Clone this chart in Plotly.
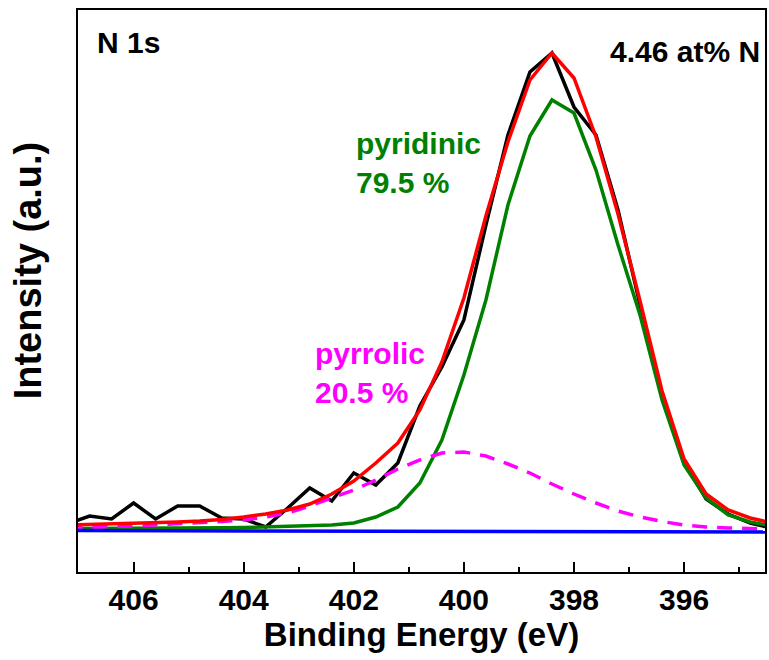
import plotly.graph_objects as go

# Binding energy (eV), 0.4 eV steps
energy = [407.2, 406.8, 406.4, 406.0, 405.6, 405.2, 404.8, 404.4, 404.0, 403.6,
          403.2, 402.8, 402.4, 402.0, 401.6, 401.2, 400.8, 400.4, 400.0, 399.6,
          399.2, 398.8, 398.4, 398.0, 397.6, 397.2, 396.8, 396.4, 396.0, 395.6,
          395.2, 394.8, 394.4]

# measured spectrum (black)
measured = [48, 56, 53, 69, 53, 66, 66, 54, 53, 45,
            64, 84, 71, 99, 87, 109, 166, 205, 252, 347,
            437, 500, 519, 465, 437, 362, 267, 177, 110, 73,
            58, 49, 44]

# total fit envelope (red)
envelope = [47, 47.5, 48, 48.5, 49, 50, 51, 52.5, 55, 58,
            62, 68, 78, 91, 109, 129, 162, 210, 274, 356,
            430, 492, 519, 494, 435, 358, 271, 181, 113, 78,
            62, 54, 49]

# pyridinic component (green)
pyridinic = [43.5, 43.5, 43.5, 43.7, 43.8, 44, 44, 44.2, 44.5, 45,
             45.5, 46, 47, 49, 55, 65, 89, 132, 197, 272,
             367, 436, 472, 459, 402, 327, 257, 172, 107, 74,
             57, 50, 46]

# pyrrolic component (magenta, dashed)
pyrrolic = [44, 45, 45.5, 46, 47, 48, 49, 50.5, 52, 55,
            59, 66, 74, 82, 92, 103, 112, 119, 120, 116,
            108, 99, 88, 78, 69, 61, 55, 50.5, 47, 45,
            44, 43.5, 43]

# background (blue)
bg_energy = [407.2, 394.4]
background = [41.5, 40.0]

FONT = "Liberation Sans, Arial, Helvetica, sans-serif"

fig = go.Figure()
fig.add_trace(go.Scatter(x=energy, y=measured, mode="lines",
                         line=dict(color="black", width=3.5), name="data"))
fig.add_trace(go.Scatter(x=energy, y=pyridinic, mode="lines",
                         line=dict(color="#008000", width=3.5), name="pyridinic"))
fig.add_trace(go.Scatter(x=energy, y=pyrrolic, mode="lines",
                         line=dict(color="#FF00FF", width=3.5, dash="15px,10px"), name="pyrrolic"))
fig.add_trace(go.Scatter(x=energy, y=envelope, mode="lines",
                         line=dict(color="#FF0000", width=3.5), name="fit"))
fig.add_trace(go.Scatter(x=bg_energy, y=background, mode="lines",
                         line=dict(color="#0000FF", width=3.5), name="background"))

fig.update_layout(
    width=769, height=660,
    margin=dict(l=78, r=2, t=10, b=88),
    paper_bgcolor="white", plot_bgcolor="white",
    showlegend=False,
    font=dict(family=FONT, color="black"),
)

fig.update_xaxes(
    range=[407.01, 394.53],
    showline=True, linecolor="black", linewidth=2, mirror=True,
    showgrid=False, zeroline=False,
    ticks="inside", ticklen=10, tickwidth=2, tickcolor="black",
    dtick=2, tick0=396,
    tickfont=dict(size=30, family=FONT),
    tickprefix="<b>", ticksuffix="</b>",
    minor=dict(ticks="inside", ticklen=5, tickwidth=2, tickcolor="black", dtick=1, showgrid=False),
    title=dict(text="<b>Binding Energy (eV)</b>", font=dict(size=33, family=FONT), standoff=6),
)
fig.update_yaxes(
    range=[0, 562],
    showline=True, linecolor="black", linewidth=2, mirror=True,
    showgrid=False, zeroline=False,
    ticks="", showticklabels=False,
)

# y-axis title
fig.add_annotation(x=-0.0726, y=0.537, xref="paper", yref="paper", xanchor="center", yanchor="middle",
                   text="<b>Intensity (a.u.)</b>", textangle=-90, showarrow=False,
                   font=dict(size=38, family=FONT, color="black"))
fig.add_annotation(x=0.025, y=0.942, xref="paper", yref="paper", xanchor="left", yanchor="middle",
                   text="<b>N 1s</b>", showarrow=False, font=dict(size=30, family=FONT, color="black"))
fig.add_annotation(x=0.995, y=0.927, xref="paper", yref="paper", xanchor="right", yanchor="middle",
                   text="<b>4.46 at% N</b>", showarrow=False, font=dict(size=30, family=FONT, color="black"))
fig.add_annotation(x=401.99, y=447, xanchor="left", yanchor="top",
                   text="<b>pyridinic<br>79.5 %</b>", showarrow=False, align="left",
                   font=dict(size=30, family=FONT, color="#008000"))
fig.add_annotation(x=402.75, y=237, xanchor="left", yanchor="top",
                   text="<b>pyrrolic<br>20.5 %</b>", showarrow=False, align="left",
                   font=dict(size=30, family=FONT, color="#FF00FF"))

fig.write_html("out.html", config={"displayModeBar": False},
               post_script="document.body.style.margin='0';")
